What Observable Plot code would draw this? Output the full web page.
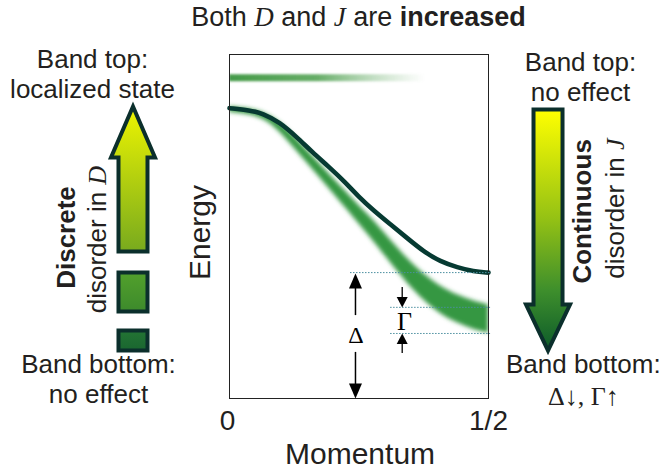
<!DOCTYPE html>
<html><head><meta charset="utf-8">
<script src="https://cdn.jsdelivr.net/npm/d3@7"></script>
<script src="https://cdn.jsdelivr.net/npm/@observablehq/plot@0.6"></script>
<style>html,body{margin:0;padding:0;background:#fff;}</style>
</head><body>
<svg width="0" height="0" style="position:absolute">
<defs>
<filter id="blurBand" x="-10%" y="-10%" width="120%" height="120%"><feGaussianBlur stdDeviation="1.9"/></filter>
<filter id="blurLocal" x="-5%" y="-300%" width="110%" height="700%"><feGaussianBlur stdDeviation="1.3"/></filter>
<linearGradient id="gLocal" x1="0" y1="0" x2="1" y2="0">
<stop offset="0" stop-color="#449a48" stop-opacity="1"/>
<stop offset="0.45" stop-color="#55a456" stop-opacity="0.9"/>
<stop offset="1" stop-color="#8cc08c" stop-opacity="0"/>
</linearGradient>
<linearGradient id="gUp" x1="0" y1="0" x2="0" y2="1">
<stop offset="0" stop-color="#eef500"/>
<stop offset="1" stop-color="#78aa1e"/>
</linearGradient>
<linearGradient id="gMid" x1="0" y1="0" x2="0" y2="1">
<stop offset="0" stop-color="#52a02c"/>
<stop offset="1" stop-color="#3d8a2c"/>
</linearGradient>
<linearGradient id="gLow" x1="0" y1="0" x2="0" y2="1">
<stop offset="0" stop-color="#237434"/>
<stop offset="1" stop-color="#1a6630"/>
</linearGradient>
<linearGradient id="gDown" x1="0" y1="0" x2="0" y2="1">
<stop offset="0" stop-color="#ffff00"/>
<stop offset="0.45" stop-color="#95c214"/>
<stop offset="0.75" stop-color="#3e8f2c"/>
<stop offset="1" stop-color="#0c5a2a"/>
</linearGradient>
</defs>
</svg>
<div id="chart"></div>
<script>
// ---- clean band dispersion (dark curve) ----
const cleanMomentum = [0, 0.039, 0.064, 0.097, 0.129, 0.160, 0.193, 0.224, 0.249, 0.278, 0.311, 0.344, 0.375, 0.407, 0.440, 0.471, 0.5];
const cleanEnergy   = [0.844, 0.838, 0.829, 0.803, 0.761, 0.716, 0.672, 0.628, 0.587, 0.547, 0.506, 0.465, 0.427, 0.398, 0.381, 0.369, 0.366];
// ---- disordered band (broadened green band) ----
const bandMomentum = [0, 0.041, 0.071, 0.097, 0.129, 0.160, 0.193, 0.226, 0.251, 0.278, 0.311, 0.344, 0.375, 0.407, 0.440, 0.471, 0.5];
const bandUpper    = [0.848, 0.843, 0.829, 0.805, 0.756, 0.705, 0.652, 0.600, 0.559, 0.519, 0.460, 0.405, 0.361, 0.325, 0.300, 0.283, 0.272];
const bandLower    = [0.832, 0.826, 0.810, 0.776, 0.721, 0.667, 0.609, 0.551, 0.505, 0.458, 0.394, 0.333, 0.285, 0.245, 0.219, 0.200, 0.190];
// ---- localized state above band top ----
const localizedMomentum = [0, 0.378];
const localizedUpper = [0.941, 0.941];
const localizedLower = [0.921, 0.921];
// ---- gap markers ----
const deltaLevel = 0.366;
const gammaLevels = [0.265, 0.189];
const deltaLineFrom = 0.2336, gammaLineFrom = 0.311, levelLineTo = 0.504;
const deltaX = 0.2432, gammaX = 0.3334;
// ---- side arrow outlines (momentum, energy units) ----
const upArrowK = [-0.1863, -0.1583, -0.1583, -0.1438, -0.1863, -0.2288, -0.2143, -0.2143, -0.1863];
const upArrowE = [0.4273, 0.4273, 0.7006, 0.7006, 0.849, 0.7006, 0.7006, 0.4273, 0.4273];
const midBoxK = [-0.1863, -0.1583, -0.1583, -0.2143, -0.2143, -0.1863];
const midBoxE = [0.2529, 0.2529, 0.3663, 0.3663, 0.2529, 0.2529];
const lowBoxK = [-0.1863, -0.1583, -0.1583, -0.2143, -0.2143, -0.1863];
const lowBoxE = [0.1395, 0.1395, 0.1977, 0.1977, 0.1395, 0.1395];
const downArrowK = [0.6149, 0.6429, 0.6429, 0.6574, 0.6149, 0.5724, 0.5869, 0.5869, 0.6149];
const downArrowE = [0.840, 0.840, 0.273, 0.273, 0.1395, 0.273, 0.273, 0.840, 0.840];
// ---- texts ----
const titleParts = [["Both ", "plain"], ["D", "math"], [" and ", "plain"], ["J", "math"], [" are ", "plain"], ["increased", "bold"]];
const sideLabels = ["Band top:", "localized state", "Band bottom:", "no effect", "Band top:", "no effect", "Band bottom:"];
const sideLabelK = [-0.2645, -0.2645, -0.2529, -0.2529, 0.6776, 0.6776, 0.683];
const sideLabelE = [0.962, 0.875, 0.0727, -0.0145, 0.951, 0.866, 0.0727];
const rightBottomNote = "Δ↓, Γ↑";
const tickLabels = ["0", "1/2"];
const tickK = [-0.004, 0.5];

const sans = "'Liberation Sans', Arial, Helvetica, sans-serif";
const serif = "'Liberation Serif', 'Times New Roman', serif";
const ink = "#231f20";
const bandColor = "#359742";

const rows = (ks, es) => ks.map((k, i) => ({k, e: es[i]}));
const bandRows = bandMomentum.map((k, i) => ({k, hi: bandUpper[i], lo: bandLower[i]}));
const localRows = localizedMomentum.map((k, i) => ({k, hi: localizedUpper[i], lo: localizedLower[i]}));

const headBig = {draw(c) { c.moveTo(0, 0); c.lineTo(-6.5, 15); c.lineTo(6.5, 15); c.closePath(); }};
const headSmall = {draw(c) { c.moveTo(0, 0); c.lineTo(-5.5, 10.5); c.lineTo(5.5, 10.5); c.closePath(); }};

const shape = (ks, es, fill) => Plot.line(rows(ks, es), {x: "k", y: "e", fill, stroke: "#0b2f2c", strokeWidth: 4, strokeLinejoin: "miter", strokeMiterlimit: 10, curve: "linear"});

const txt = (data, opts) => Plot.text(data, {x: "k", y: "e", text: "t", fill: ink, lineAnchor: "bottom", fontFamily: sans, ...opts});

const titleText = titleParts.map(d => d[0]).join("");

const chart = Plot.plot({
  width: 664, height: 472,
  marginLeft: 229, marginRight: 176, marginTop: 54, marginBottom: 74,
  x: {domain: [0, 0.5], axis: null},
  y: {domain: [0, 1], axis: null},
  style: {background: "#fff", color: ink, fontFamily: sans},
  marks: [
    Plot.areaY(localRows, {x: "k", y1: "lo", y2: "hi", fill: "url(#gLocal)", clip: true}),
    Plot.areaY(bandRows, {x: "k", y1: "lo", y2: "hi", fill: bandColor, curve: "basis", clip: true}),
    Plot.line(rows(cleanMomentum, cleanEnergy), {x: "k", y: "e", stroke: "#063a32", strokeWidth: 4.6, curve: "basis"}),
    Plot.frame({stroke: "#222", strokeWidth: 1}),
    // dotted level lines
    Plot.ruleY([deltaLevel], {x1: deltaLineFrom, x2: levelLineTo, stroke: "#4b8f9f", strokeWidth: 1, strokeDasharray: "1.5,1.5"}),
    Plot.ruleY(gammaLevels, {x1: gammaLineFrom, x2: levelLineTo, stroke: "#4b8f9f", strokeWidth: 1, strokeDasharray: "1.5,1.5"}),
    // Delta arrows
    Plot.ruleX([deltaX], {y1: 0.241, y2: 0.33, stroke: "#000", strokeWidth: 1.5}),
    Plot.ruleX([deltaX], {y1: 0.03, y2: 0.134, stroke: "#000", strokeWidth: 1.5}),
    Plot.dot([{k: deltaX, e: 0.3634}], {x: "k", y: "e", symbol: headBig, fill: "#000", stroke: "none"}),
    Plot.dot([{k: deltaX, e: 0}], {x: "k", y: "e", symbol: headBig, fill: "#000", stroke: "none", rotate: 180}),
    Plot.text([{k: 0.2442, e: 0.1599, t: "Δ"}], {x: "k", y: "e", text: "t", fill: "#000", fontFamily: serif, fontSize: 24, lineAnchor: "bottom"}),
    // Gamma arrows
    Plot.ruleX([gammaX], {y1: 0.29, y2: 0.3227, stroke: "#000", strokeWidth: 1.3}),
    Plot.ruleX([gammaX], {y1: 0.1308, y2: 0.17, stroke: "#000", strokeWidth: 1.3}),
    Plot.dot([{k: gammaX, e: 0.2645}], {x: "k", y: "e", symbol: headSmall, fill: "#000", stroke: "none", rotate: 180}),
    Plot.dot([{k: gammaX, e: 0.189}], {x: "k", y: "e", symbol: headSmall, fill: "#000", stroke: "none"}),
    Plot.text([{k: 0.338, e: 0.1977, t: "Γ"}], {x: "k", y: "e", text: "t", fill: "#000", fontFamily: serif, fontSize: 26, lineAnchor: "bottom"}),
    // side arrows and boxes
    shape(upArrowK, upArrowE, "url(#gUp)"),
    shape(midBoxK, midBoxE, "url(#gMid)"),
    shape(lowBoxK, lowBoxE, "url(#gLow)"),
    shape(downArrowK, downArrowE, "url(#gDown)"),
    // texts
    txt([{k: 0.249, e: 1.084, t: titleText}], {fontSize: 27}),
    txt(sideLabels.map((t, i) => ({t, k: sideLabelK[i], e: sideLabelE[i]})), {fontSize: 26}),
    txt([{k: 0.683, e: -0.0203, t: rightBottomNote}], {fontSize: 26, fontFamily: serif}),
    txt([{k: -0.2973, e: 0.468, t: "Discrete"}], {fontSize: 26, fontWeight: "bold", rotate: -90}),
    txt([{k: -0.2375, e: 0.462, t: "disorder in D"}], {fontSize: 26, rotate: -90}),
    txt([{k: 0.6988, e: 0.544, t: "Continuous"}], {fontSize: 26, fontWeight: "bold", rotate: -90}),
    txt([{k: 0.7625, e: 0.552, t: "disorder in J"}], {fontSize: 26, rotate: -90}),
    txt([{k: -0.0367, e: 0.4826, t: "Energy"}], {fontSize: 30, rotate: -90}),
    txt([{k: 0.252, e: -0.1918, t: "Momentum"}], {fontSize: 30}),
    txt(tickLabels.map((t, i) => ({t, k: tickK[i], e: -0.093})), {fontSize: 28})
  ]
});
document.getElementById("chart").append(chart);

const root = d3.select(chart);
root.selectAll("g").filter(function() { return this.getAttribute("fill") === bandColor; }).attr("filter", "url(#blurBand)");
root.selectAll("g").filter(function() { return this.getAttribute("fill") === "url(#gLocal)"; }).attr("filter", "url(#blurLocal)");

function rich(content, parts) {
  root.selectAll("text").filter(function() { return this.textContent === content; }).each(function() {
    const t = d3.select(this);
    t.text(null);
    for (const [s, kind] of parts) {
      const ts = t.append("tspan").text(s);
      if (kind === "math") ts.attr("font-family", serif).attr("font-style", "italic");
      if (kind === "bold") ts.attr("font-weight", "bold");
    }
  });
}
rich(titleText, titleParts);
rich("disorder in D", [["disorder in ", "plain"], ["D", "math"]]);
rich("disorder in J", [["disorder in ", "plain"], ["J", "math"]]);
</script>
</body></html>
